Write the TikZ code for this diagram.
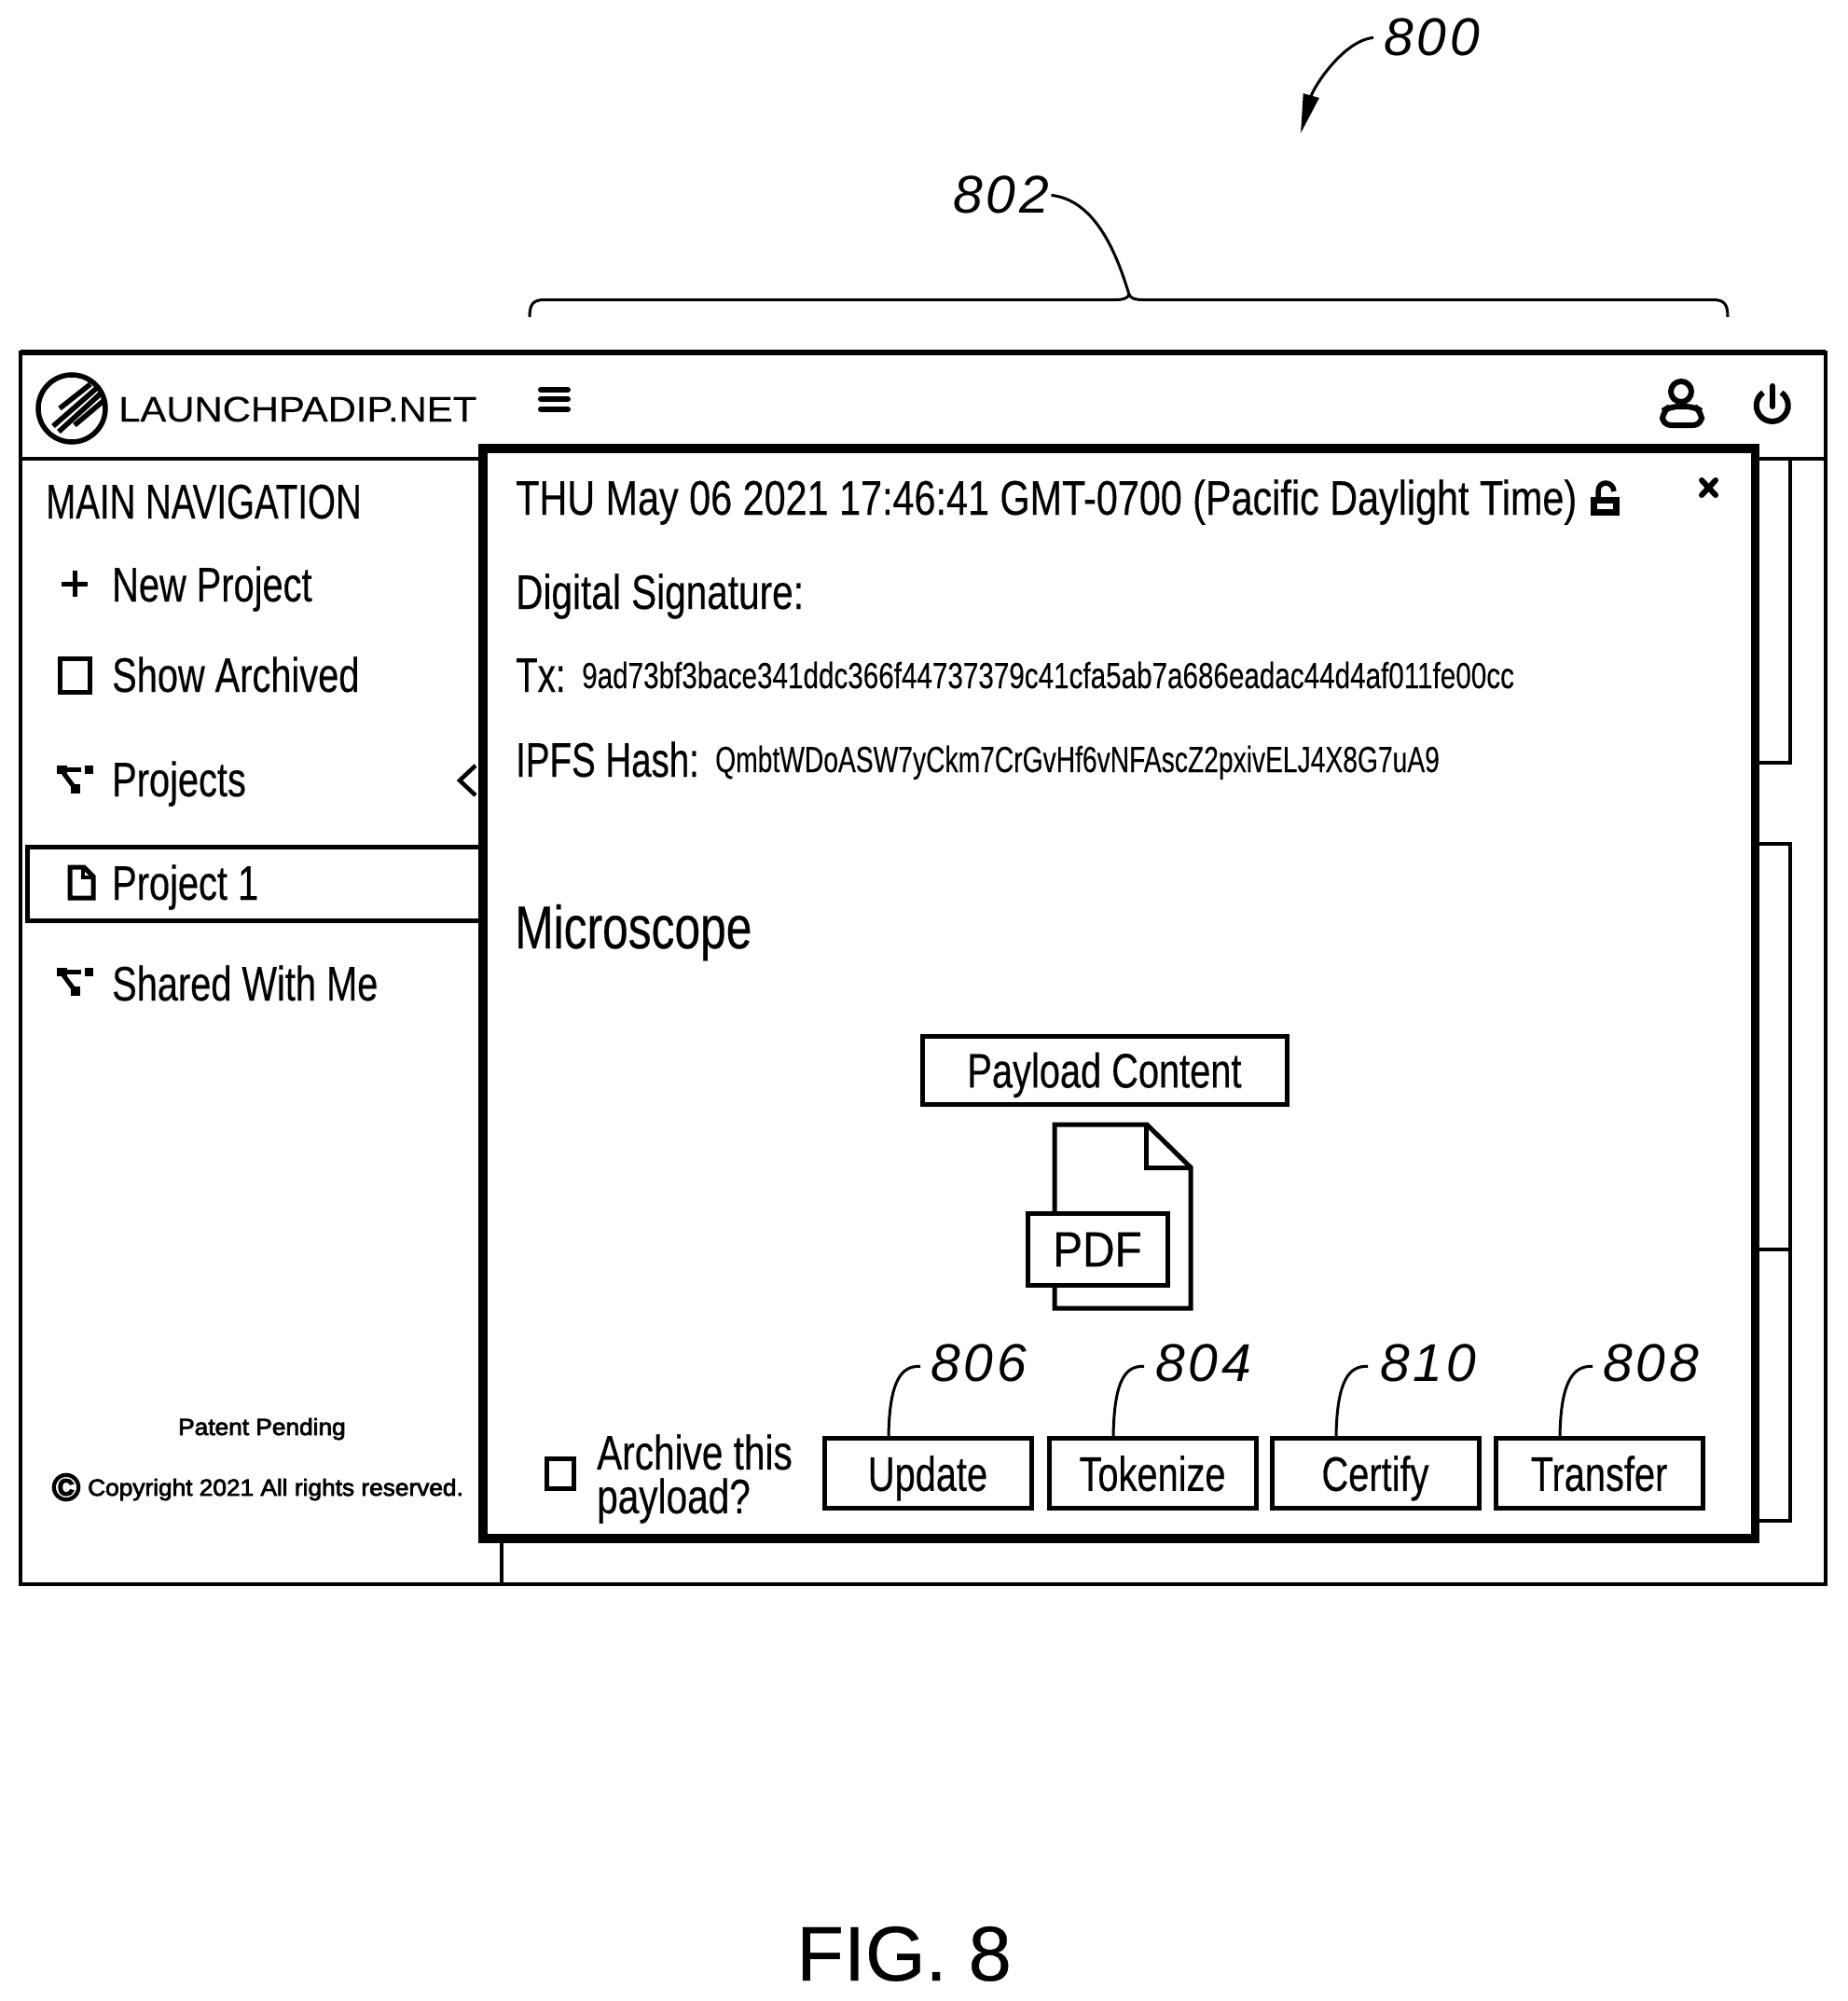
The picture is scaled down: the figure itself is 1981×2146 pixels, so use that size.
\documentclass[tikz,border=0pt]{standalone}
\usepackage{fontspec}
\usetikzlibrary{arrows.meta}
\setmainfont{Liberation Sans}
\newfontfamily\narrowfont[FakeStretch=0.765,FakeBold=0.3]{Liberation Sans}
\newfontfamily\datefont[FakeStretch=0.795,FakeBold=0.3]{Liberation Sans}
\newfontfamily\widefont[FakeStretch=0.78,FakeBold=0.3]{Liberation Sans}
\newfontfamily\labelfont[FakeStretch=0.74,FakeBold=0.3]{Liberation Sans}
\newfontfamily\hashfont[FakeStretch=0.76,FakeBold=0.2]{Liberation Sans}
\newfontfamily\ipfsfont[FakeStretch=0.724,FakeBold=0.2]{Liberation Sans}
\newfontfamily\logofont[FakeStretch=1.1,FakeBold=0.2]{Liberation Sans}
\newfontfamily\pdffont[FakeStretch=0.9,FakeBold=0.3]{Liberation Sans}
\newfontfamily\smallfont[FakeStretch=1.05,FakeBold=3]{Liberation Sans}
\newfontfamily\markfont[FakeBold=6]{Liberation Sans}
\newfontfamily\numfont[LetterSpace=7]{Liberation Sans}
\newfontfamily\figfont[FakeBold=0.4]{Liberation Sans}

\begin{document}
\begin{tikzpicture}[x=1pt, y=-1pt,
    uitext/.style={anchor=base west, inner sep=0pt, font=\narrowfont\fontsize{52}{56}\selectfont},
    widetext/.style={anchor=base west, inner sep=0pt, font=\widefont\fontsize{52}{56}\selectfont},
    labeltext/.style={anchor=base west, inner sep=0pt, font=\labelfont\fontsize{52}{56}\selectfont},
    hashtext/.style={anchor=base west, inner sep=0pt, font=\hashfont\fontsize{39}{42}\selectfont},
    smalltext/.style={anchor=base west, inner sep=0pt, font=\smallfont\fontsize{25}{28}\selectfont},
    refnum/.style={anchor=base west, inner sep=0pt, font=\numfont\itshape\fontsize{57}{60}\selectfont},
    button/.style={draw, line width=5pt, fill=white, minimum width=222pt, minimum height=75pt,
        inner sep=0pt, text depth=0pt, font=\narrowfont\fontsize{52}{56}\selectfont},
    leader/.style={line width=3pt},
    panel/.style={line width=4.5pt},
    icon/.style={line width=5pt},
    thickicon/.style={line width=6pt, line cap=round}]
    \useasboundingbox (0,0) rectangle (1981,2146);

    \draw[panel] (22,378) rectangle (1958,1699);
    \draw[line width=5.5pt] (22,378) -- (1958,378);
    \draw[panel] (22,492) -- (520,492);
    \draw[panel] (1880,492) -- (1958,492);
    \draw[panel] (538,1640) -- (538,1699);
    \draw[panel] (1920,492) -- (1920,818) -- (1880,818);
    \draw[panel] (1880,905) -- (1920,905) -- (1920,1631) -- (1880,1631);
    \draw[panel] (1880,1340) -- (1920,1340);

    \draw[line width=5.5pt] (77,438) circle (36);
    \draw[line width=5.5pt] (64,438) -- (97,412);
    \draw[line width=5.5pt] (57,457) -- (104,416);
    \draw[line width=5.5pt] (63,463) -- (108,422);
    \draw[line width=5.5pt] (80,456) -- (112,429);
    \node[anchor=base west, inner sep=0pt, font=\logofont\fontsize{38}{40}\selectfont] (logo) at (127,452) {LAUNCHPADIP.NET};

    \draw[thickicon] (580,418) -- (609,418);
    \draw[thickicon] (580,428) -- (609,428);
    \draw[thickicon] (580,439) -- (609,439);

    \draw[line width=6pt] (1803,420) circle (11);
    \draw[line width=6pt, rounded corners=9pt] (1783,456) -- (1783,441) -- (1791,436) -- (1817,436) -- (1825,441) -- (1825,456) -- cycle;
    \draw[thickicon] (1901,414) -- (1901,436);
    \draw[line width=6pt] (1891,421) arc[start angle=125, end angle=415, radius=17pt];

    \node[labeltext] (mainnav) at (49,556) {MAIN NAVIGATION};
    \draw[icon] (66,626) -- (94,626);
    \draw[icon] (80,612) -- (80,640);
    \node[uitext] (newproject) at (120,645) {New Project};
    \draw[icon] (64,706) rectangle (96,742);
    \node[uitext] (archived) at (120,742) {Show Archived};

    \fill (61,821) rectangle (72,830);
    \fill (91,821) rectangle (100,830);
    \fill (76,841) rectangle (86,851);
    \draw[line width=5pt] (68,825.5) -- (87,825.5);
    \draw[line width=5pt] (66,826) -- (80,845);
    \node[uitext] (projects) at (120,854) {Projects};
    \draw[line width=4.5pt] (510,821) -- (493,837) -- (510,853);

    \draw[line width=5pt] (520,908) -- (29,908) -- (29,987) -- (520,987);
    \draw[icon] (75,930) -- (90,930) -- (100,940) -- (100,963) -- (75,963) -- cycle;
    \draw[line width=3.5pt] (89,930) -- (89,941) -- (100,941);
    \node[uitext] (projectone) at (120,965) {Project 1};

    \fill (61,1038) rectangle (72,1047);
    \fill (91,1038) rectangle (100,1047);
    \fill (76,1058) rectangle (86,1068);
    \draw[line width=5pt] (68,1042.5) -- (87,1042.5);
    \draw[line width=5pt] (66,1043) -- (80,1062);
    \node[uitext] (shared) at (120,1073) {Shared With Me};

    \node[smalltext] (patent) at (191,1539) {Patent Pending};
    \node[anchor=center, inner sep=0pt, font=\markfont\fontsize{40}{42}\selectfont] (copymark) at (71,1595) {\textcopyright};
    \node[smalltext] (copyright) at (94,1604) {Copyright 2021 All rights reserved.};

    \draw[line width=9.5pt, fill=white] (518,481) rectangle (1882.5,1650);

    \node[anchor=base west, inner sep=0pt, font=\datefont\fontsize{52}{56}\selectfont] (date) at (553,552) {THU May 06 2021 17:46:41 GMT-0700 (Pacific Daylight Time)};
    \draw[line width=7pt] (1709.5,536.5) rectangle (1733.5,549.5);
    \draw[line width=5.5pt] (1714,534) -- (1714,527) .. controls (1714,515) and (1730,515) .. (1731,527);
    \draw[thickicon] (1825,515) -- (1840,531);
    \draw[thickicon] (1840,515) -- (1825,531);

    \node[widetext] (signature) at (553,653) {Digital Signature:};
    \node[labeltext] (txlabel) at (553,742) {Tx:};
    \node[hashtext] (txhash) at (624,738) {9ad73bf3bace341ddc366f44737379c41cfa5ab7a686eadac44d4af011fe00cc};
    \node[labeltext] (ipfslabel) at (553,833) {IPFS Hash:};
    \node[anchor=base west, inner sep=0pt, font=\ipfsfont\fontsize{39}{42}\selectfont] (ipfshash) at (767,828) {QmbtWDoASW7yCkm7CrGvHf6vNFAscZ2pxivELJ4X8G7uA9};
    \node[anchor=base west, inner sep=0pt, font=\narrowfont\fontsize{65}{70}\selectfont] (microscope) at (552,1017) {Microscope};

    \node[button, minimum width=391pt, minimum height=73pt] (payload) at (1184.5,1147.5) {Payload Content};
    \draw[line width=5pt, line join=miter] (1131,1206) -- (1230,1206) -- (1277,1252) -- (1277,1403) -- (1131,1403) -- cycle;
    \draw[line width=5pt] (1229,1206) -- (1229,1252) -- (1277,1252);
    \node[draw, line width=5pt, fill=white, minimum width=150pt, minimum height=77pt, inner sep=0pt,
        font=\pdffont\fontsize{53}{56}\selectfont] (pdf) at (1177,1340) {PDF};

    \draw[line width=5pt] (586,1564) rectangle (615,1596);
    \node[anchor=west, align=left, inner sep=0pt, font=\widefont\fontsize{52}{47}\selectfont] (archive) at (640,1586) {Archive this\\payload?};

    \node[button] (update) at (995,1580) {Update};
    \node[button] (tokenize) at (1236,1580) {Tokenize};
    \node[button] (certify) at (1475,1580) {Certify};
    \node[button] (transfer) at (1715,1580) {Transfer};

    \node[refnum] (num806) at (998,1481) {806};
    \node[refnum] (num804) at (1239,1481) {804};
    \node[refnum] (num810) at (1480,1481) {810};
    \node[refnum] (num808) at (1719,1481) {808};
    \draw[leader] ([xshift=-42pt]update.north) .. controls +(1,-60) and +(-20,-1) .. ([xshift=-11pt,yshift=-4pt]num806.west);
    \draw[leader] ([xshift=-42pt]tokenize.north) .. controls +(1,-60) and +(-20,-1) .. ([xshift=-12pt,yshift=-4pt]num804.west);
    \draw[leader] ([xshift=-42pt]certify.north) .. controls +(1,-60) and +(-20,-1) .. ([xshift=-13pt,yshift=-4pt]num810.west);
    \draw[leader] ([xshift=-42pt]transfer.north) .. controls +(1,-60) and +(-20,-1) .. ([xshift=-11pt,yshift=-4pt]num808.west);

    \node[refnum] (num800) at (1484,60) {800};
    \coordinate (view) at (1395,143);
    \draw[leader, -{Stealth[length=42pt, width=17pt, inset=0pt]}] ([xshift=-11pt]num800.west) .. controls +(-32,3) and +(14,-50) .. (view);

    \node[refnum] (num802) at (1022,229) {802};
    \coordinate (bracetip) at (1211,316);
    \draw[leader] ([xshift=2pt]num802.east) .. controls +(45,5) and +(-15,-50) .. (bracetip);
    \draw[leader] (568,340) .. controls (568,326) and (572,321.5) .. (584,321.5)
        -- (1196,321.5) .. controls (1205,321.5) and (1209,320) .. (bracetip)
        .. controls (1213,320) and (1217,321.5) .. (1226,321.5)
        -- (1837,321.5) .. controls (1849,321.5) and (1853,326) .. (1853,340);

    \node[anchor=base west, inner sep=0pt, font=\figfont\fontsize{83}{88}\selectfont] (figlabel) at (854,2124) {FIG. 8};
\end{tikzpicture}
\end{document}
